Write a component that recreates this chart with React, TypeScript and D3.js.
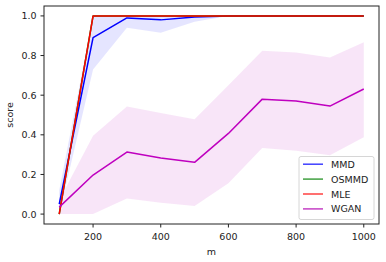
import React, { useEffect, useRef } from 'react';
import * as d3 from 'd3';

const ms = [100, 200, 300, 400, 500, 600, 700, 800, 900, 1000];

const mmdMean = [0.05, 0.89, 0.99, 0.98, 0.995, 1.0, 1.0, 1.0, 1.0, 1.0];
const mmdLow = [0.0, 0.73, 0.94, 0.915, 0.97, 1.0, 1.0, 1.0, 1.0, 1.0];
const mmdHigh = [0.12, 1.0, 1.0, 1.0, 1.0, 1.0, 1.0, 1.0, 1.0, 1.0];

const osmmdMean = [0.0, 1.0, 1.0, 1.0, 1.0, 1.0, 1.0, 1.0, 1.0, 1.0];
const mleMean = [0.0, 1.0, 1.0, 1.0, 1.0, 1.0, 1.0, 1.0, 1.0, 1.0];

const wganMean = [0.035, 0.197, 0.313, 0.283, 0.261, 0.407, 0.58, 0.571, 0.545, 0.631];
const wganLow = [0.0, 0.0, 0.079, 0.057, 0.041, 0.155, 0.333, 0.32, 0.297, 0.388];
const wganHigh = [0.07, 0.395, 0.543, 0.51, 0.479, 0.65, 0.824, 0.816, 0.79, 0.867];

const xTicks = [200, 400, 600, 800, 1000];
const yTicks = [0, 0.2, 0.4, 0.6, 0.8, 1.0];

const legendItems = [
  { name: 'MMD', color: '#4040ff' },
  { name: 'OSMMD', color: '#40a040' },
  { name: 'MLE', color: '#ff4040' },
  { name: 'WGAN', color: '#c540c5' },
];

const W = 386;
const H = 262;
const font = '"DejaVu Sans", sans-serif';

const App: React.FC = () => {
  const svgRef = useRef<SVGSVGElement>(null);

  useEffect(() => {
    if (!svgRef.current) return;
    const svg = d3.select(svgRef.current);
    svg.selectAll('*').remove();

    const left = 44, right = 379, top = 6, bottom = 224;
    const x = d3.scaleLinear().domain([55, 1045]).range([left, right]);
    const y = d3.scaleLinear().domain([-0.05, 1.05]).range([bottom, top]);

    svg.append('rect').attr('width', W).attr('height', H).attr('fill', '#fff');

    svg.append('defs').append('clipPath').attr('id', 'plot-clip')
      .append('rect')
      .attr('x', left).attr('y', top)
      .attr('width', right - left).attr('height', bottom - top);

    const plot = svg.append('g').attr('clip-path', 'url(#plot-clip)');

    const band = (lo: number[], hi: number[]) =>
      d3.area<number>()
        .x((_, i) => x(ms[i]))
        .y0((_, i) => y(lo[i]))
        .y1((_, i) => y(hi[i]))(ms) as string;

    const line = (vals: number[]) =>
      d3.line<number>()
        .x((_, i) => x(ms[i]))
        .y(d => y(d))(vals) as string;

    // shaded bands
    plot.append('path').attr('d', band(mmdLow, mmdHigh))
      .attr('fill', 'rgba(0,0,255,0.1)');
    plot.append('path').attr('d', band(wganLow, wganHigh))
      .attr('fill', 'rgba(191,0,191,0.1)');

    // mean lines
    const series: [number[], string][] = [
      [mmdMean, '#0000ff'],
      [osmmdMean, '#008000'],
      [mleMean, '#ff0000'],
      [wganMean, '#bf00bf'],
    ];
    series.forEach(([vals, color]) => {
      plot.append('path')
        .attr('d', line(vals))
        .attr('fill', 'none')
        .attr('stroke', color)
        .attr('stroke-width', 1.5)
        .attr('stroke-linejoin', 'round');
    });

    // frame
    svg.append('rect')
      .attr('x', left).attr('y', top)
      .attr('width', right - left).attr('height', bottom - top)
      .attr('fill', 'none').attr('stroke', '#222').attr('stroke-width', 1);

    // x ticks
    const xg = svg.append('g');
    xTicks.forEach(t => {
      xg.append('line')
        .attr('x1', x(t)).attr('x2', x(t))
        .attr('y1', bottom).attr('y2', bottom + 3.5)
        .attr('stroke', '#222');
      xg.append('text')
        .attr('x', x(t)).attr('y', bottom + 15.5)
        .attr('text-anchor', 'middle')
        .attr('font-family', font).attr('font-size', '9.5px').attr('fill', '#222')
        .text(String(t));
    });

    // y ticks
    const yg = svg.append('g');
    yTicks.forEach(t => {
      yg.append('line')
        .attr('x1', left - 3.5).attr('x2', left)
        .attr('y1', y(t)).attr('y2', y(t))
        .attr('stroke', '#222');
      yg.append('text')
        .attr('x', left - 7.5).attr('y', y(t) + 3.5)
        .attr('text-anchor', 'end')
        .attr('font-family', font).attr('font-size', '9.5px').attr('fill', '#222')
        .text(d3.format('.1f')(t));
    });

    // axis labels
    svg.append('text')
      .attr('x', (left + right) / 2).attr('y', 255)
      .attr('text-anchor', 'middle')
      .attr('font-family', font).attr('font-size', '9.5px').attr('fill', '#222')
      .text('m');
    svg.append('text')
      .attr('transform', `translate(13,${(top + bottom) / 2}) rotate(-90)`)
      .attr('text-anchor', 'middle')
      .attr('font-family', font).attr('font-size', '9.5px').attr('fill', '#222')
      .text('score');

    // legend
    const lg = svg.append('g');
    lg.append('rect')
      .attr('x', 299).attr('y', 156.5)
      .attr('width', 75).attr('height', 63)
      .attr('rx', 2)
      .attr('fill', 'rgba(255,255,255,0.8)')
      .attr('stroke', '#d6d6d6');
    legendItems.forEach((item, i) => {
      const ly = 164.2 + i * 14.9;
      lg.append('line')
        .attr('x1', 303).attr('x2', 323)
        .attr('y1', ly).attr('y2', ly)
        .attr('stroke', item.color).attr('stroke-width', 1.5);
      lg.append('text')
        .attr('x', 331).attr('y', ly + 3.5)
        .attr('font-family', font).attr('font-size', '9.5px').attr('fill', '#222')
        .text(item.name);
    });
  }, []);

  return (
    <div style={{ position: 'absolute', left: 0, top: 0 }}>
      <svg ref={svgRef} width={W} height={H} style={{ display: 'block' }}></svg>
    </div>
  );
};

export default App;
